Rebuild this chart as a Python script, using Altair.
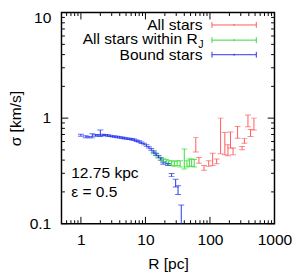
import altair as alt
import pandas as pd

# ---------------- data ----------------
red_R = [60.3, 67.5, 80.9, 95.5, 110, 127, 146, 170, 190, 208, 228, 268, 314, 342, 388, 425, 480]
red_sigma = [0.567, 0.399, 0.338, 0.372, 0.41, 0.39, 0.73, 0.59, 0.50, 0.63, 0.485, 0.74, 0.52, 0.61, 0.95, 0.725, 0.885]
red_err = [0.09, 0.025, 0.018, 0.023, 0.055, 0.02, 0.27, 0.14, 0.06, 0.11, 0.035, 0.095, 0.018, 0.033, 0.12, 0.055, 0.115]

green_R = [13.5, 14.8, 16.0, 17.5, 19.0, 21.0, 23.0, 25.5, 28.0, 31.0, 34.5, 40.0, 44.0, 48.0, 52.0, 57.0]
green_sigma = [0.47, 0.45, 0.43, 0.41, 0.40, 0.39, 0.38, 0.375, 0.37, 0.375, 0.37, 0.42, 0.37, 0.38, 0.38, 0.375]
green_err = [0.01, 0.01, 0.01, 0.012, 0.012, 0.015, 0.015, 0.02, 0.02, 0.02, 0.025, 0.09, 0.025, 0.03, 0.03, 0.03]

blue_R = [1.0, 1.19, 1.34, 1.5, 1.68, 1.83, 2.0, 2.18, 2.38, 2.6, 2.83, 3.1, 3.36, 3.68, 4.0, 4.36,
          4.76, 5.2, 5.65, 6.15, 6.7, 7.3, 8.0, 8.7, 9.5, 10.4, 11.3, 12.3, 13.4, 14.6, 15.9, 17.3,
          18.8, 22.3, 25.4, 29.4, 32.0, 35.9]
blue_sigma = [0.69, 0.667, 0.66, 0.68, 0.685, 0.69, 0.72, 0.695, 0.69, 0.685, 0.68, 0.672, 0.667, 0.662,
              0.658, 0.652, 0.645, 0.64, 0.636, 0.63, 0.623, 0.61, 0.60, 0.585, 0.568, 0.55, 0.53, 0.505,
              0.48, 0.455, 0.43, 0.41, 0.374, 0.364, 0.289, 0.243, 0.209, 0.12]
blue_err = [0.015, 0.015, 0.01, 0.03, 0.01, 0.01, 0.05, 0.01, 0.01, 0.01, 0.01, 0.01, 0.01, 0.01,
            0.01, 0.01, 0.01, 0.01, 0.01, 0.01, 0.01, 0.01, 0.01, 0.01, 0.01, 0.01, 0.01, 0.01,
            0.01, 0.01, 0.01, 0.01, 0.008, 0.008, 0.01, 0.02, 0.02, 0.03]

x_major = [1, 10, 100, 1000]
x_minor = [0.5, 0.6, 0.7, 0.8, 0.9, 2, 3, 4, 5, 6, 7, 8, 9, 20, 30, 40, 50, 60, 70, 80, 90,
           200, 300, 400, 500, 600, 700, 800, 900]
y_major = [0.1, 1, 10]
y_minor = [0.2, 0.3, 0.4, 0.5, 0.6, 0.7, 0.8, 0.9, 2, 3, 4, 5, 6, 7, 8, 9]

legend_labels = ["All stars", "All stars within R", "Bound stars"]
series_colors = ["#ff5a5a", "#33dd33", "#2233ee"]
annotations = ["12.75 kpc", "ε = 0.5"]

# ---------------- layout ----------------
W, H = 219, 217
FONT = "Liberation Sans"

xscale = alt.Scale(type="log", domain=[0.5, 1000], nice=False)
yscale = alt.Scale(type="log", domain=[0.1, 10], nice=False)

xaxis = alt.Axis(values=x_major, format="~g", ticks=False, tickSize=0, domain=False, grid=False,
                 labelFontSize=16, labelFont=FONT, labelColor="black", labelPadding=21.5,
                 labelBaseline="alphabetic", labelFlush=False, labelOverlap=False,
                 titleFontSize=16, titleFont=FONT, titleFontWeight="normal", titleColor="black",
                 titleX=W / 2, titleY=46.5, titleBaseline="alphabetic", titleAlign="center")
yaxis = alt.Axis(values=y_major, format="~g", ticks=False, tickSize=0, domain=False, grid=False,
                 labelFontSize=16, labelFont=FONT, labelColor="black", labelPadding=11,
                 labelFlush=False, labelOverlap=False,
                 labelOffset={"condition": {"test": "datum.value == 10", "value": 5}, "value": 0},
                 titleFontSize=16, titleFont=FONT, titleFontWeight="normal", titleColor="black",
                 titleAngle=270, titleX=-47, titleY=H / 2, titleBaseline="middle", titleAlign="center")


def X(f):
    return alt.X(f"{f}:Q", scale=xscale, axis=xaxis, title="R [pc]")


def Y(f):
    return alt.Y(f"{f}:Q", scale=yscale, axis=yaxis, title="σ [km/s]")


def series(R, s, e, color):
    df = pd.DataFrame({"R": R, "sigma": s,
                       "lo": [a - b for a, b in zip(s, e)],
                       "hi": [a + b for a, b in zip(s, e)]})
    base = alt.Chart(df)
    bar = base.mark_rule(color=color, strokeWidth=1, clip=True).encode(x=X("R"), y=Y("lo"), y2="hi:Q")
    c1 = base.mark_tick(color=color, orient="horizontal", size=6, thickness=1, clip=True).encode(
        x=X("R"), y=Y("lo"))
    c2 = base.mark_tick(color=color, orient="horizontal", size=6, thickness=1, clip=True).encode(
        x=X("R"), y=Y("hi"))
    return [bar, c1, c2]


layers = []
layers += series(red_R, red_sigma, red_err, series_colors[0])
layers += series(green_R, green_sigma, green_err, series_colors[1])
layers += series(blue_R, blue_sigma, blue_err, series_colors[2])

# inward ticks on all four sides
for vals, ln in [(x_major, 7), (x_minor, 3.5)]:
    d = alt.Chart(pd.DataFrame({"R": vals}))
    layers.append(d.mark_rule(color="black", strokeWidth=1).encode(
        x=X("R"), y=alt.value(H), y2=alt.value(H - ln)))
    layers.append(d.mark_rule(color="black", strokeWidth=1).encode(
        x=X("R"), y=alt.value(0), y2=alt.value(ln)))
for vals, ln in [(y_major, 7), (y_minor, 3.5)]:
    d = alt.Chart(pd.DataFrame({"sigma": vals}))
    layers.append(d.mark_rule(color="black", strokeWidth=1).encode(
        y=Y("sigma"), x=alt.value(0), x2=alt.value(ln)))
    layers.append(d.mark_rule(color="black", strokeWidth=1).encode(
        y=Y("sigma"), x=alt.value(W), x2=alt.value(W - ln)))

# legend (drawn manually, symbol to the right of the label)
dummy = alt.Chart(pd.DataFrame({"k": [0]}))
leg_text_x = 145
leg_base = [17.7, 32.7, 48.7]
leg_line_y = [12.7, 28.3, 43.3]
for lab, col, by, ly in zip(legend_labels, series_colors, leg_base, leg_line_y):
    tx = leg_text_x - (5 if "within" in lab else 0)
    layers.append(dummy.mark_text(align="right", baseline="alphabetic", fontSize=16, font=FONT,
                                  color="black", text=lab).encode(x=alt.value(tx), y=alt.value(by)))
    layers.append(dummy.mark_rule(color=col, strokeWidth=1).encode(
        x=alt.value(154.7), x2=alt.value(200.3), y=alt.value(ly)))
    for cx, hh in [(154.7, 3), (200.3, 3), (177.5, 1)]:
        layers.append(dummy.mark_rule(color=col, strokeWidth=1).encode(
            x=alt.value(cx), y=alt.value(ly - hh), y2=alt.value(ly + hh)))
layers.append(dummy.mark_text(align="left", baseline="alphabetic", fontSize=11, font=FONT,
                              color="black", text="J").encode(x=alt.value(140.6), y=alt.value(36.2)))

# annotations
for txt, by in zip(annotations, [170.3, 189.3]):
    layers.append(dummy.mark_text(align="left", baseline="alphabetic", fontSize=16, font=FONT,
                                  color="black", text=txt).encode(x=alt.value(10), y=alt.value(by)))

chart = alt.layer(*layers).properties(
    width=W, height=H,
    autosize=alt.AutoSizeParams(type="none"),
    padding={"left": 55, "top": 1, "right": 18, "bottom": 47},
).configure(font=FONT).configure_view(stroke="black", strokeWidth=1.5)

chart.save("out.html", embed_options={"renderer": "svg", "actions": False})
